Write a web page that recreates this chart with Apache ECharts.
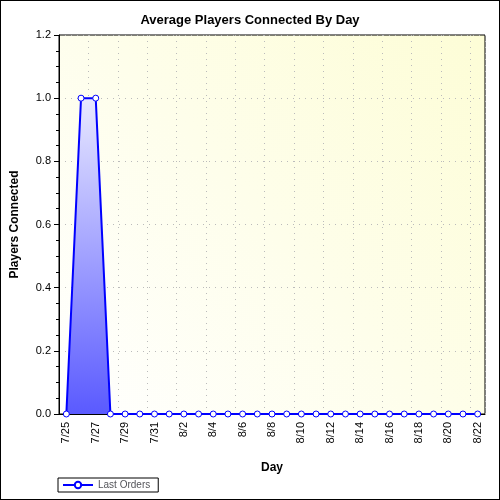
<!DOCTYPE html><html><head><meta charset="utf-8"><script src="https://cdn.jsdelivr.net/npm/echarts@6/dist/echarts.min.js"></script></head><body style="margin:0"><div id="c" style="width:500px;height:500px;border:1px solid #000;box-sizing:border-box"></div><script>
const days=[];for(let i=25;i<=31;i++)days.push('7/'+i);for(let i=1;i<=22;i++)days.push('8/'+i);
const values=[0,1,1,0,0,0,0,0,0,0,0,0,0,0,0,0,0,0,0,0,0,0,0,0,0,0,0,0,0];
const ch=echarts.init(document.getElementById('c'));
ch.setOption({animation:false,
title:{text:'Average Players Connected By Day',left:'center',top:8,textStyle:{fontFamily:'Arial',fontSize:13,fontWeight:'bold',color:'#000'}},
grid:{left:58,right:14,top:34,bottom:85,show:true,borderColor:'#000',borderWidth:1,
backgroundColor:new echarts.graphic.LinearGradient(0,1,1,0,[{offset:0,color:'#ffffff'},{offset:1,color:'#fdfdd6'}])},
legend:{left:57,bottom:7,itemWidth:30,itemHeight:8,borderColor:'#000',borderWidth:1,padding:[2,8,2,4],borderRadius:0,textStyle:{fontSize:10,fontFamily:'Arial'},data:['Last Orders']},
xAxis:{type:'category',data:days,boundaryGap:true,name:'Day',nameLocation:'middle',nameGap:48,nameTextStyle:{fontWeight:'bold',fontSize:12,fontFamily:'Arial'},
axisLine:{lineStyle:{color:'#000'}},axisTick:{alignWithLabel:true,interval:0,inside:false},
axisLabel:{rotate:90,interval:1,color:'#000',fontFamily:'Arial',fontSize:11},
splitLine:{show:true,interval:1,lineStyle:{type:[1,5],color:'#bbb'}}},
yAxis:{type:'value',min:0,max:1.2,interval:0.2,name:'Players Connected',nameLocation:'middle',nameGap:38,nameTextStyle:{fontWeight:'bold',fontSize:12,fontFamily:'Arial'},
axisLine:{show:true,lineStyle:{color:'#000'}},axisTick:{show:true},minorTick:{show:true,splitNumber:4},
axisLabel:{formatter:v=>v.toFixed(1),color:'#000',fontFamily:'Arial',fontSize:11},
splitLine:{lineStyle:{type:[1,5],color:'#bbb'}}},
series:[{name:'Last Orders',type:'line',data:values,symbol:'circle',symbolSize:6,showAllSymbol:true,
itemStyle:{color:'#fff',borderColor:'#0000ff',borderWidth:1},lineStyle:{color:'#0000ff',width:2},
areaStyle:{opacity:1,color:new echarts.graphic.LinearGradient(0,0,0,1,[{offset:0,color:'#e8e8ff'},{offset:1,color:'#5a5aff'}]),origin:'start'}}]
});
</script></body></html>
